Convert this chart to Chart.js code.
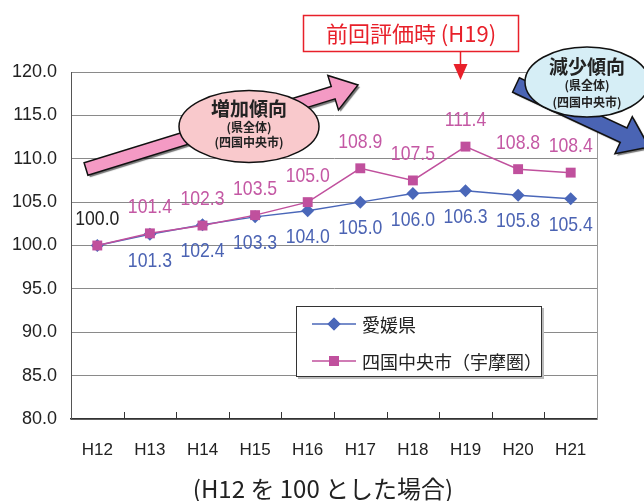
<!DOCTYPE html>
<html>
<head>
<meta charset="utf-8">
<script src="https://cdn.jsdelivr.net/npm/chart.js@4/dist/chart.umd.min.js"></script>
<style>
  html, body { margin: 0; padding: 0; background: #fff; }
  #wrap { width: 644px; height: 501px; }
</style>
</head>
<body>
<div id="wrap"><canvas id="c" width="644" height="501"></canvas></div>
<script>
// Population index, H12 = 100
const years = ['H12', 'H13', 'H14', 'H15', 'H16', 'H17', 'H18', 'H19', 'H20', 'H21'];
const ehime = [100.0, 101.3, 102.4, 103.3, 104.0, 105.0, 106.0, 106.3, 105.8, 105.4];
const shikokuchuo = [100.0, 101.4, 102.3, 103.5, 105.0, 108.9, 107.5, 111.4, 108.8, 108.4];
const seriesNames = ['愛媛県', '四国中央市（宇摩圏）'];
const yMin = 80, yMax = 120, yStep = 5;
const footerText = '(H12 を 100 とした場合)';
const markerYear = 'H19';
const markerText = '前回評価時 (H19)';

const BLUE = '#4a67b9', PINK = '#c0509d';
const BLUE_TXT = '#4b63b3', PINK_TXT = '#c458a4';
const NUM_FONT = "'Liberation Sans', Arial, sans-serif";
const JP_FONT = "'Noto Sans CJK JP', sans-serif";

// draws text squeezed horizontally (narrow numeric style)
function narrowText(ctx, text, x, y, sx) {
  ctx.save();
  ctx.translate(x, y);
  ctx.scale(sx, 1);
  ctx.fillText(text, 0, 0);
  ctx.restore();
}

function arrowPath(ctx, T, P, hw, hh, hl) {
  const dx = P[0] - T[0], dy = P[1] - T[1];
  const L = Math.hypot(dx, dy);
  const u = [dx / L, dy / L], n = [-u[1], u[0]];
  const B = [P[0] - u[0] * hl, P[1] - u[1] * hl];
  const pts = [
    [T[0] + n[0] * hw, T[1] + n[1] * hw],
    [B[0] + n[0] * hw, B[1] + n[1] * hw],
    [B[0] + n[0] * hh, B[1] + n[1] * hh],
    P,
    [B[0] - n[0] * hh, B[1] - n[1] * hh],
    [B[0] - n[0] * hw, B[1] - n[1] * hw],
    [T[0] - n[0] * hw, T[1] - n[1] * hw]
  ];
  ctx.beginPath();
  ctx.moveTo(pts[0][0], pts[0][1]);
  for (let i = 1; i < pts.length; i++) ctx.lineTo(pts[i][0], pts[i][1]);
  ctx.closePath();
}

function drawArrow(ctx, T, P, hw, hh, hl, fill) {
  ctx.save();
  arrowPath(ctx, T, P, hw, hh, hl);
  ctx.shadowColor = 'rgba(0,0,0,0.55)';
  ctx.shadowOffsetX = 2; ctx.shadowOffsetY = 2; ctx.shadowBlur = 1;
  ctx.fillStyle = fill;
  ctx.fill();
  ctx.shadowColor = 'transparent';
  ctx.lineWidth = 1.5;
  ctx.strokeStyle = '#111';
  ctx.stroke();
  ctx.restore();
}

function drawBubble(ctx, cx, cy, rx, ry, fill, lines) {
  ctx.save();
  ctx.beginPath();
  ctx.ellipse(cx, cy, rx, ry, 0, 0, Math.PI * 2);
  ctx.fillStyle = fill;
  ctx.fill();
  ctx.lineWidth = 1.5;
  ctx.strokeStyle = '#111';
  ctx.stroke();
  ctx.fillStyle = '#222';
  ctx.textAlign = 'center';
  ctx.textBaseline = 'middle';
  for (const ln of lines) {
    ctx.font = 'bold ' + ln.size + 'px ' + JP_FONT;
    ctx.fillText(ln.text, cx, cy + ln.dy);
  }
  ctx.restore();
}

const overlay = {
  id: 'overlay',
  beforeDatasetsDraw(chart) {
    const { ctx, chartArea: a, scales: { x } } = chart;
    ctx.save();
    // right frame line
    ctx.strokeStyle = '#9a9a9a';
    ctx.lineWidth = 1;
    ctx.beginPath();
    ctx.moveTo(a.right + 0.5, a.top);
    ctx.lineTo(a.right + 0.5, a.bottom);
    ctx.stroke();
    // inner tick marks between categories
    ctx.strokeStyle = '#333';
    for (let i = 1; i < years.length; i++) {
      const px = Math.round((x.getPixelForValue(i - 1) + x.getPixelForValue(i)) / 2) + 0.5;
      ctx.beginPath();
      ctx.moveTo(px, a.bottom);
      ctx.lineTo(px, a.bottom - 7);
      ctx.stroke();
    }
    ctx.restore();
  },
  afterDatasetsDraw(chart) {
    const { ctx } = chart;
    ctx.save();
    ctx.font = '21px ' + NUM_FONT;
    ctx.textAlign = 'center';
    ctx.textBaseline = 'middle';
    chart.data.datasets.forEach((ds, di) => {
      const meta = chart.getDatasetMeta(di);
      meta.data.forEach((pt, i) => {
        const v = ds.data[i];
        if (ds.labelPos === 'below') {
          if (i === 0) return;
          ctx.fillStyle = BLUE_TXT;
          narrowText(ctx, v.toFixed(1), pt.x, pt.y + 26.5, 0.84);
        } else {
          ctx.fillStyle = i === 0 ? '#222' : PINK_TXT;
          narrowText(ctx, v.toFixed(1), pt.x, pt.y - 26, 0.84);
        }
      });
    });
    ctx.restore();
  },
  afterDraw(chart) {
    const { ctx, scales: { x } } = chart;

    // footer note
    ctx.save();
    ctx.fillStyle = '#222';
    ctx.font = '24px ' + JP_FONT;
    ctx.textAlign = 'center';
    ctx.textBaseline = 'middle';
    ctx.fillText(footerText, 323, 489);
    ctx.restore();

    // legend
    ctx.save();
    ctx.fillStyle = '#bbb';
    ctx.fillRect(298, 308, 246, 71);
    ctx.fillStyle = '#fff';
    ctx.fillRect(296, 306, 246, 71);
    ctx.strokeStyle = '#333';
    ctx.lineWidth = 1;
    ctx.strokeRect(296.5, 306.5, 245, 70);
    const order = [0, 1];
    order.forEach((di, k) => {
      const ds = chart.data.datasets[di];
      const ly = 324 + k * 37;
      ctx.strokeStyle = ds.borderColor;
      ctx.lineWidth = 1.5;
      ctx.beginPath();
      ctx.moveTo(312, ly);
      ctx.lineTo(356, ly);
      ctx.stroke();
      ctx.fillStyle = ds.backgroundColor;
      Chart.helpers.drawPoint(ctx, { pointStyle: ds.pointStyle, radius: ds.pointRadius, borderWidth: 0 }, 334, ly);
      ctx.fill();
      ctx.fillStyle = '#222';
      ctx.font = '18px ' + JP_FONT;
      ctx.textAlign = 'left';
      ctx.textBaseline = 'middle';
      ctx.fillText(ds.label, 362, ly + 1);
    });
    ctx.restore();

    // previous evaluation marker
    ctx.save();
    const mx = x.getPixelForValue(years.indexOf(markerYear)) - 5;
    ctx.fillStyle = '#fff';
    ctx.fillRect(303, 15, 216, 37);
    ctx.strokeStyle = '#e8202a';
    ctx.lineWidth = 1.5;
    ctx.strokeRect(303.5, 15.5, 215, 36);
    ctx.fillStyle = '#e8202a';
    ctx.font = '22px ' + JP_FONT;
    ctx.textAlign = 'center';
    ctx.textBaseline = 'middle';
    ctx.fillText(markerText, 411, 34);
    ctx.beginPath();
    ctx.moveTo(mx, 52);
    ctx.lineTo(mx, 66);
    ctx.stroke();
    ctx.beginPath();
    ctx.moveTo(mx - 7, 64);
    ctx.lineTo(mx + 7, 64);
    ctx.lineTo(mx, 80);
    ctx.closePath();
    ctx.fill();
    ctx.restore();

    // rising trend
    drawArrow(ctx, [86, 169], [358, 85], 6.5, 18, 26, '#f49ac4');
    drawBubble(ctx, 249, 126.5, 70, 36, '#f9c9cc', [
      { text: '増加傾向', size: 19, dy: -18 },
      { text: '(県全体)', size: 12, dy: 1 },
      { text: '(四国中央市)', size: 12, dy: 16 }
    ]);

    // falling trend
    drawArrow(ctx, [516, 85], [649, 147], 8, 20.5, 28, '#4a64b4');
    drawBubble(ctx, 587, 82, 62, 35, '#d6eef6', [
      { text: '減少傾向', size: 19, dy: -15 },
      { text: '(県全体)', size: 12, dy: 3 },
      { text: '(四国中央市)', size: 12, dy: 20 }
    ]);
  }
};

new Chart(document.getElementById('c'), {
  type: 'line',
  data: {
    labels: years,
    datasets: [
      {
        label: seriesNames[0],
        data: ehime,
        borderColor: BLUE,
        backgroundColor: BLUE,
        borderWidth: 1.5,
        pointStyle: 'rectRot',
        pointRadius: 6.5,
        pointBorderWidth: 0,
        order: 1,
        labelPos: 'below'
      },
      {
        label: seriesNames[1],
        data: shikokuchuo,
        borderColor: PINK,
        backgroundColor: PINK,
        borderWidth: 1.5,
        pointStyle: 'rect',
        pointRadius: 7,
        pointBorderWidth: 0,
        order: 0,
        labelPos: 'above'
      }
    ]
  },
  options: {
    responsive: false,
    devicePixelRatio: 1,
    animation: false,
    layout: { padding: { top: 72, right: 47, left: 0, bottom: 0 } },
    plugins: {
      legend: { display: false },
      tooltip: { enabled: false },
      title: { display: false }
    },
    scales: {
      x: {
        offset: true,
        grid: { display: false, drawTicks: false },
        border: { display: true, color: '#333', width: 1.5 },
        ticks: {
          color: '#222',
          padding: 21,
          maxRotation: 0,
          autoSkip: false,
          font: { family: NUM_FONT, size: 17 }
        },
        afterFit(s) { s.height = 82; }
      },
      y: {
        min: yMin,
        max: yMax,
        grid: { color: '#8a8a8a', lineWidth: 1, drawTicks: false },
        border: { display: true, color: '#555', width: 1 },
        ticks: {
          stepSize: yStep,
          color: '#222',
          padding: 14,
          font: { family: NUM_FONT, size: 18 },
          callback: v => Number(v).toFixed(1)
        },
        afterFit(s) { s.width = 71; }
      }
    }
  },
  plugins: [overlay]
});
</script>
</body>
</html>
